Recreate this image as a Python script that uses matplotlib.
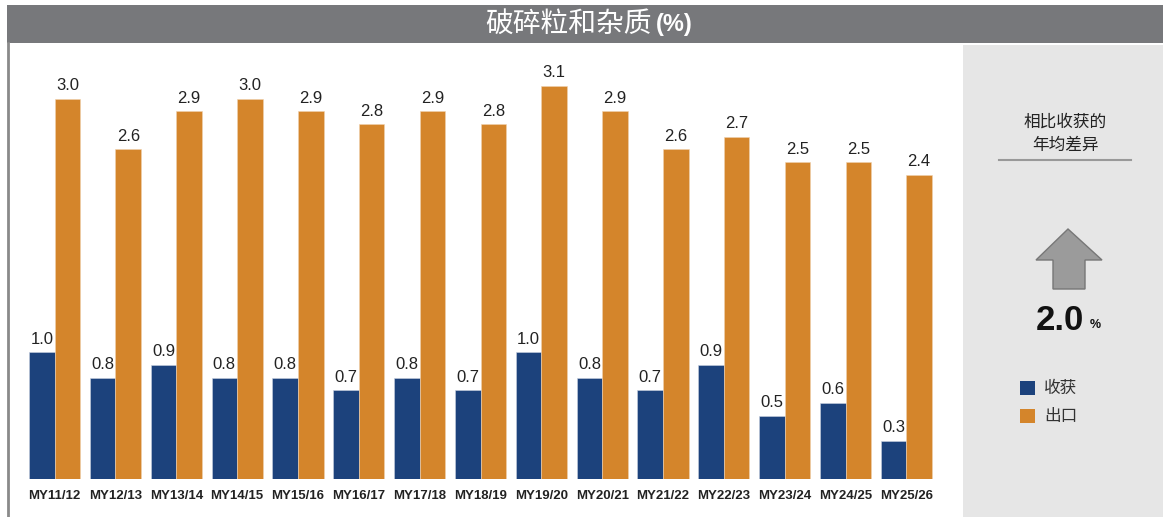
import numpy as np
import matplotlib.pyplot as plt
from matplotlib.patches import Rectangle, Polygon
from matplotlib.lines import Line2D

plt.rcParams['font.family'] = ['Liberation Sans', 'Noto Sans CJK SC', 'DejaVu Sans']

seasons = ['MY11/12', 'MY12/13', 'MY13/14', 'MY14/15', 'MY15/16', 'MY16/17', 'MY17/18',
           'MY18/19', 'MY19/20', 'MY20/21', 'MY21/22', 'MY22/23', 'MY23/24', 'MY24/25', 'MY25/26']
harvest = [1.0, 0.8, 0.9, 0.8, 0.8, 0.7, 0.8, 0.7, 1.0, 0.8, 0.7, 0.9, 0.5, 0.6, 0.3]
export = [3.0, 2.6, 2.9, 3.0, 2.9, 2.8, 2.9, 2.8, 3.1, 2.9, 2.6, 2.7, 2.5, 2.5, 2.4]
avg_diff = '2.0'

BLUE = '#1c427c'
ORANGE = '#d4852b'
W, H = 1163, 517


def fx(px):
    return px / W


def fy(py):
    return 1 - py / H


fig = plt.figure(figsize=(W / 100, H / 100), dpi=100)

# title bar and side panel
fig.patches.append(Rectangle((fx(7), fy(43)), fx(1163 - 7), 38 / H, transform=fig.transFigure,
                             facecolor='#77787b', edgecolor='none', zorder=0))
fig.patches.append(Rectangle((fx(963), 0), fx(200), fy(45), transform=fig.transFigure,
                             facecolor='#e6e6e6', edgecolor='none', zorder=0))
fig.lines.append(Line2D([fx(8), fx(8)], [0, fy(43)], transform=fig.transFigure,
                        color='#8a8a8a', lw=2))
fig.text(fx(652), fy(24), '破碎粒和杂质', ha='right', va='center', color='white', fontsize=20,
         family=['Noto Sans CJK SC'], fontweight='light')
fig.text(fx(656), fy(24), '(%)', ha='left', va='center', color='white', fontsize=17, fontweight='bold')

# bars
ax = fig.add_axes([fx(12), fy(479), fx(949 - 12), (479 - 48) / H])
x = np.arange(len(seasons))
bw = 0.42
b1 = ax.bar(x - bw / 2, harvest, bw, color=BLUE, edgecolor='#c9d2e0', linewidth=0.4)
b2 = ax.bar(x + bw / 2, export, bw, color=ORANGE, edgecolor='#f0d2b0', linewidth=0.4)
for bars, vals in ((b1, harvest), (b2, export)):
    for r, v in zip(bars, vals):
        ax.annotate(f'{v:.1f}', (r.get_x() + r.get_width() / 2, v), xytext=(0, 4),
                    textcoords='offset points', ha='center', va='bottom', fontsize=12,
                    color='#222222')
ax.set_xlim(-0.7, 14.7)
ax.set_ylim(0, 3.4)
ax.set_xticks(x)
ax.set_xticklabels(seasons, fontsize=9.5, fontweight='bold', color='#222222')
ax.tick_params(axis='x', length=0, pad=8)
ax.set_yticks([])
for s in ax.spines.values():
    s.set_visible(False)
ax.patch.set_alpha(0)

# side panel content
fig.text(fx(1065), fy(134), '相比收获的\n年均差异', ha='center', va='center', fontsize=12,
         family=['Noto Sans CJK SC'], color='#222222', linespacing=1.45)
fig.lines.append(Line2D([fx(999), fx(1131)], [fy(160), fy(160)], transform=fig.transFigure,
                        color='#999999', lw=1.5))
arrow = [(1068, 229), (1102, 260), (1085, 260), (1085, 289), (1053, 289), (1053, 260), (1036, 260)]
fig.patches.append(Polygon([(fx(a), fy(b)) for a, b in arrow], closed=True, transform=fig.transFigure,
                           facecolor='#9b9b9b', edgecolor='#777777', lw=1))
fig.text(fx(1084), fy(320), avg_diff, ha='right', va='center', fontsize=25, fontweight='bold',
         color='#111111')
fig.text(fx(1090), fy(325), '%', ha='left', va='center', fontsize=9, fontweight='bold',
         color='#111111')

fig.patches.append(Rectangle((fx(1020), fy(395)), fx(15), 14 / H, transform=fig.transFigure,
                             facecolor=BLUE, edgecolor='none'))
fig.patches.append(Rectangle((fx(1020), fy(423)), fx(15), 14 / H, transform=fig.transFigure,
                             facecolor=ORANGE, edgecolor='none'))
fig.text(fx(1044), fy(388), '收获', ha='left', va='center', fontsize=12, family=['Noto Sans CJK SC'],
         color='#333333', fontweight='light')
fig.text(fx(1044), fy(416), '出口', ha='left', va='center', fontsize=12, family=['Noto Sans CJK SC'],
         color='#333333', fontweight='light')

fig.savefig('out.png', dpi=100)
